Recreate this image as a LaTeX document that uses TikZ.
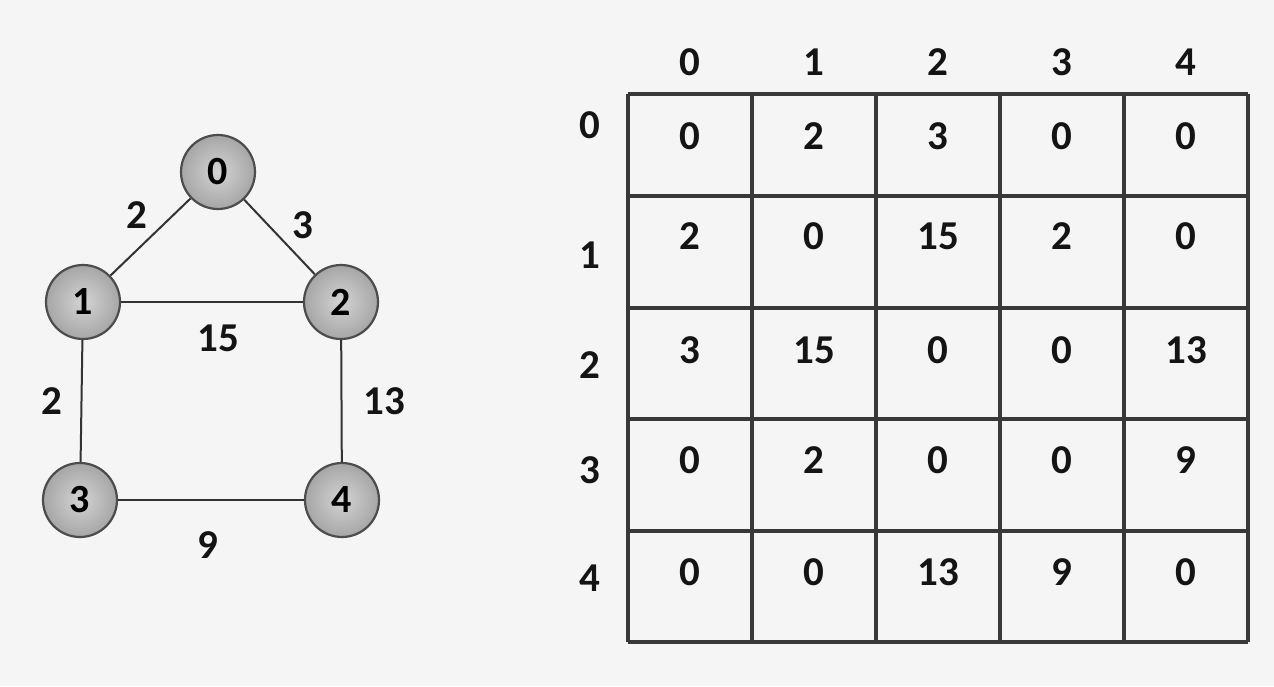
\documentclass[tikz,border=0pt]{standalone}
\usepackage{fontspec}
\setmainfont{Carlito}
\begin{document}
\begin{tikzpicture}[x=1pt,y=-1pt,
  vert/.style={circle,draw=black!70,line width=2.2pt,minimum size=74pt,inner sep=0pt,
    shade,inner color=black!17,outer color=black!35,font=\fontsize{40}{44}\selectfont\bfseries},
  edge/.style={draw=black!80,line width=2pt},
  lbl/.style={font=\fontsize{41}{46}\selectfont\bfseries,text=black!92,inner sep=0pt},
  gridline/.style={draw=black!78,line width=3.2pt}]
\fill[black!4] (0,0) rectangle (1274,686);
\useasboundingbox (0,0) rectangle (1274,686);
% graph
\node[vert] (n0) at (218,172) {0};
\node[vert] (n1) at (83,302) {1};
\node[vert] (n2) at (341,302) {2};
\node[vert] (n3) at (80,500) {3};
\node[vert] (n4) at (342,500) {4};
\draw[edge] (n0) -- (n1);
\draw[edge] (n0) -- (n2);
\draw[edge] (n1) -- (n2);
\draw[edge] (n1) -- (n3);
\draw[edge] (n2) -- (n4);
\draw[edge] (n3) -- (n4);
\node[lbl] (w01) at (137,215) {2};
\node[lbl] (w02) at (303,225) {3};
\node[lbl] (w12) at (218,338) {15};
\node[lbl] (w13) at (52,401) {2};
\node[lbl] (w24) at (384,401) {13};
\node[lbl] (w34) at (208,545) {9};
% matrix grid
\foreach \x in {628,752,876,1000,1124,1248}
  \draw[gridline] (\x,94) -- (\x,642);
\foreach \y in {94,196,308,419,531,642}
  \draw[gridline] (628,\y) -- (1248,\y);
% headers
\foreach \t [count=\i from 0] in {0,1,2,3,4}
  \node[lbl] (h\i) at (690+124*\i,62) {\t};
\node[lbl] (r0) at (590,125) {0};
\node[lbl] (r1) at (590,255) {1};
\node[lbl] (r2) at (590,365) {2};
\node[lbl] (r3) at (590,470) {3};
\node[lbl] (r4) at (590,578) {4};
% entries
\foreach \row/\yy/\vals in {0/136/{0,2,3,0,0},1/236/{2,0,15,2,0},2/350/{3,15,0,0,13},3/460/{0,2,0,0,9},4/572/{0,0,13,9,0}}
  \foreach \v [count=\c from 0] in \vals
    \node[lbl] (m\row\c) at (690+124*\c,\yy) {\v};
\end{tikzpicture}
\end{document}
